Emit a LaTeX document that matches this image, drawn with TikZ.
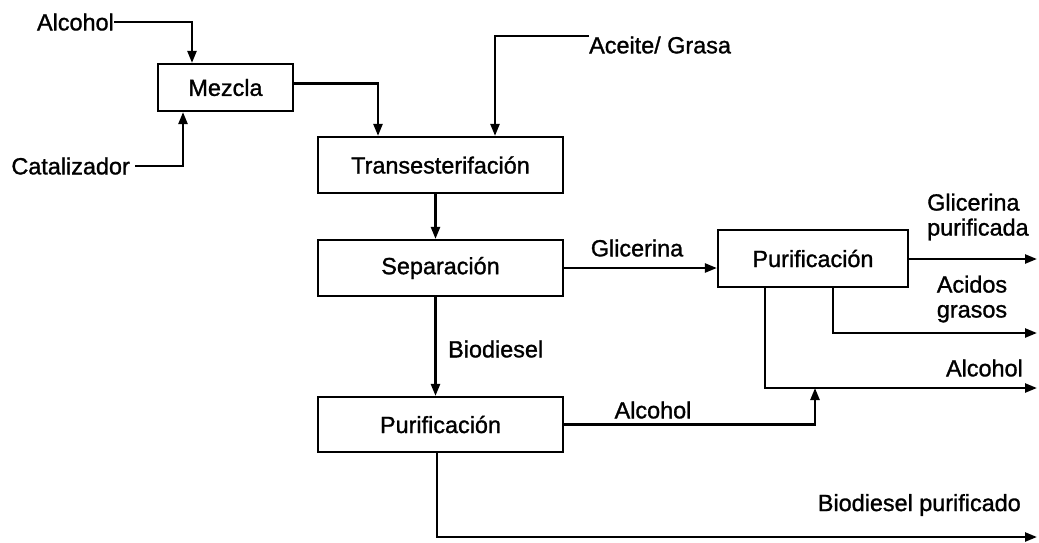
\documentclass[tikz,border=0pt]{standalone}
\usepackage{fontspec}
\setmainfont{Liberation Sans}[FakeBold=1.2]
\usetikzlibrary{arrows.meta,calc}
\begin{document}
\begin{tikzpicture}[x=1pt,y=-1pt,
  every node/.style={font=\fontsize{23.4}{27}\selectfont},
  box/.style={draw,line width=2.2pt,inner sep=0pt,align=center},
  lbl/.style={inner sep=0pt,align=left},
  arr/.style={line width=2.4pt,-{Triangle[length=12pt,width=9pt]}}]
\useasboundingbox (0,0) rectangle (1039,542);
% boxes
\node[box,minimum width=135pt,minimum height=47pt] (mezcla) at (225.5,87.5) {Mezcla};
\node[box,minimum width=245pt,minimum height=56pt] (trans) at (440.5,165) {Transesterifación};
\node[box,minimum width=245pt,minimum height=56pt] (sep) at (440.5,268) {Separación};
\node[box,minimum width=245pt,minimum height=55pt] (pur1) at (440.5,424.5) {Purificación};
\node[box,minimum width=190pt,minimum height=57pt] (pur2) at (813,258.5) {Purificación};
% labels
\node[lbl,anchor=east] (alc1) at (114,22) {Alcohol};
\node[lbl,anchor=east,inner xsep=5pt] (cat) at (135,166) {Catalizador};
\node[lbl,anchor=west] (aceite) at (589,45) {Aceite/ Grasa};
\node[lbl] (lglic) at (637,248) {Glicerina};
\node[lbl,anchor=west] (lbio) at (448,349) {Biodiesel};
\node[lbl] (lalc2) at (653,410) {Alcohol};
\node[lbl,anchor=west] (lglp) at (927,217) {Glicerina\\[-2pt]purificada};
\node[lbl,align=center] (lacg) at (972,299) {Acidos\\[-2pt]grasos};
\node[lbl,anchor=east] (lalc3) at (1023,368) {Alcohol};
\node[lbl,anchor=east] (lbiop) at (1021,505) {Biodiesel purificado};
% end coordinates
\coordinate (e1) at (1037,259);
\coordinate (e2) at (1037,333);
\coordinate (e3) at (1037,388);
\coordinate (e4) at (1037,537);
\coordinate (j1) at (815,388);
% connectors
\draw[arr] (alc1.east) -| ([xshift=-33.5pt]mezcla.north);
\draw[arr] (cat.east) -| ([xshift=-42.5pt]mezcla.south);
\draw[arr] ([yshift=4pt]mezcla.east) -| ([xshift=-62.5pt]trans.north);
\draw[arr] ([yshift=9pt]aceite.west) -| ([xshift=54.5pt]trans.north);
\draw[arr] ([xshift=-5pt]trans.south) -- ([xshift=-5pt]sep.north);
\draw[arr] (sep.east) -- (sep.east -| pur2.west);
\draw[arr] ([xshift=-5pt]sep.south) -- ([xshift=-5pt]pur1.north);
\draw[arr] (pur1.east) -| (j1);
\draw[arr] (pur2.east |- e1) -- (e1);
\draw[arr] ([xshift=20pt]pur2.south) |- (e2);
\draw[arr] ([xshift=-48pt]pur2.south) |- (e3);
\draw[arr] ([xshift=-3.5pt]pur1.south) |- (e4);
\end{tikzpicture}
\end{document}
